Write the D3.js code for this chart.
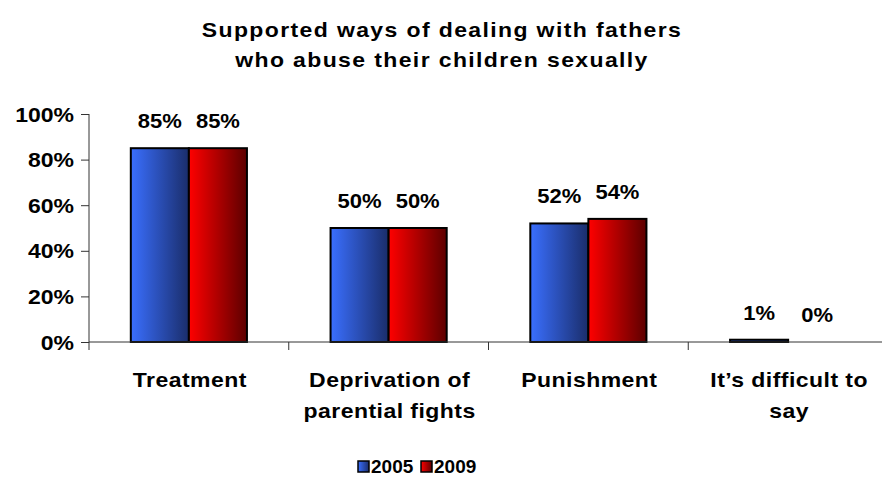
<!DOCTYPE html>
<html><head><meta charset="utf-8">
<script src="https://cdn.jsdelivr.net/npm/d3@7"></script>
<style>body{margin:0;background:#fff}svg{display:block}text{font-family:"Liberation Sans",Arial,sans-serif;font-weight:bold;fill:#000}</style>
</head><body><svg id="c" width="882" height="493"></svg>
<script>
const categories = [["Treatment"], ["Deprivation of", "parential fights"], ["Punishment"], ["It\u2019s difficult to", "say"]];
const seriesNames = ["2005", "2009"];
const values2005 = [85, 50, 52, 1];
const values2009 = [85, 50, 54, 0];
const yTicks = [0, 20, 40, 60, 80, 100];
const titleLines = ["Supported ways of dealing with fathers", "who abuse their children sexually"];

const SX = 1.15;
const svg = d3.select("#c");
const defs = svg.append("defs");
function grad(id, c1, c2) {
  const g = defs.append("linearGradient").attr("id", id).attr("x1", "0").attr("x2", "1").attr("y1", "0").attr("y2", "0");
  g.append("stop").attr("offset", "0").attr("stop-color", c1);
  g.append("stop").attr("offset", "1").attr("stop-color", c2);
}
grad("gb", "#3a6fff", "#1a2d6a");
grad("gr", "#ff0000", "#5c0000");
const fills = ["url(#gb)", "url(#gr)"];

const pL = 89, pR = 888, pT = 114, pB = 342;
const idx = categories.map((d, i) => i);
const x = d3.scaleBand().domain(idx).range([pL, pR]).padding(0);
const x1 = d3.scaleBand().domain(seriesNames).range([0, x.bandwidth()]).paddingInner(0).paddingOuter(0.72);
const y = d3.scaleLinear().domain([0, 100]).range([pB, pT]);

// title
svg.append("g").selectAll("text").data(titleLines).join("text")
  .attr("transform", (d, i) => `translate(442,${37 + i * 30}) scale(${SX},1)`).attr("text-anchor", "middle")
  .style("font-size", "20px").style("letter-spacing", "1.2px").text(d => d);

// bars
const data = idx.map(i => [values2005[i], values2009[i]]);
const groups = svg.append("g").selectAll("g").data(data).join("g")
  .attr("transform", (d, i) => `translate(${x(i)},0)`);
groups.selectAll("rect").data(d => d.map((v, j) => ({v, j})).filter(e => e.v > 0)).join("rect")
  .attr("x", d => x1(seriesNames[d.j]))
  .attr("width", x1.bandwidth())
  .attr("y", d => y(d.v))
  .attr("height", d => Math.max(y(0) - y(d.v), 0))
  .attr("fill", d => fills[d.j])
  .attr("stroke", "#000").attr("stroke-width", 2);
groups.selectAll("text.v").data(d => d.map((v, j) => ({v, j}))).join("text")
  .attr("class", "v")
  .attr("transform", d => `translate(${x1(seriesNames[d.j]) + x1.bandwidth() / 2},${y(d.v) - 20}) scale(1.1,1)`)
  .attr("text-anchor", "middle").style("font-size", "20px")
  .text(d => d.v + "%");

// y axis
const yAxis = svg.append("g").attr("transform", `translate(${pL},0)`)
  .call(d3.axisLeft(y).tickValues(yTicks).tickSize(8).tickPadding(8).tickFormat(d => d + "%"));
yAxis.selectAll("text").style("font-size", "20px").style("font-family", '"Liberation Sans",Arial,sans-serif')
  .style("font-weight", "bold").attr("dy", "0.35em").attr("x", -15 / SX).attr("transform", `scale(${SX},1)`);
yAxis.selectAll("line").attr("stroke", "#333");
yAxis.select(".domain").attr("stroke", "#333").attr("d", `M0,${pT}V${pB}`);

// x axis
const xg = svg.append("g");
xg.append("line").attr("x1", pL).attr("x2", pR).attr("y1", pB).attr("y2", pB).attr("stroke", "#333");
xg.selectAll("line.t").data(idx.concat([idx.length])).join("line").attr("class", "t")
  .attr("x1", d => d < idx.length ? x(d) : pR).attr("x2", d => d < idx.length ? x(d) : pR)
  .attr("y1", pB).attr("y2", pB + 8).attr("stroke", "#333");
xg.selectAll("text").data(categories).join("text")
  .attr("text-anchor", "middle").style("font-size", "20px").style("letter-spacing", "0.4px")
  .attr("transform", (d, i) => `translate(${x(i) + x.bandwidth() / 2 + 1},387) scale(${SX},1)`)
  .selectAll("tspan").data(d => d).join("tspan")
  .attr("x", 0).attr("y", (d, i) => i * 31).text(d => d);

// legend
const lg = svg.append("g");
const legX = [358, 421];
seriesNames.forEach((s, i) => {
  lg.append("rect").attr("x", legX[i]).attr("y", 461).attr("width", 11).attr("height", 11)
    .attr("fill", fills[i]).attr("stroke", "#000").attr("stroke-width", 1.5);
  lg.append("text").attr("x", legX[i] + 13).attr("y", 473).style("font-size", "19px").text(s);
});
</script></body></html>
